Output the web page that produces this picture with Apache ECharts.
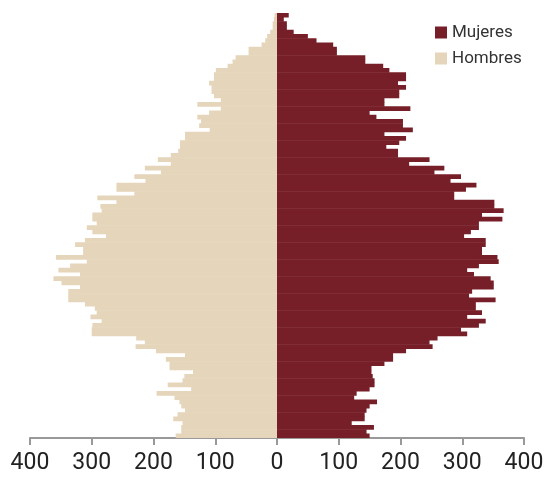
<!DOCTYPE html>
<html>
<head>
<meta charset="utf-8">
<script src="https://cdn.jsdelivr.net/npm/echarts@6/dist/echarts.min.js"></script>
<style>
  html, body { margin: 0; padding: 0; background: #fff; }
  #chart { width: 549px; height: 483px; }
</style>
</head>
<body>
<div id="chart"></div>
<script>
// edades de arriba (mayor) a abajo (menor)
var edades = [];
for (var a = 99; a >= 0; a--) edades.push(String(a));

var mujeres = [
  19, 11, 16, 16, 27, 50, 64, 91, 97, 97,
  143, 143, 172, 182, 209, 209, 196, 209, 198, 198,
  174, 174, 216, 150, 161, 204, 204, 220, 174, 209,
  198, 177, 196, 196, 247, 214, 271, 255, 298, 281,
  323, 306, 287, 287, 352, 352, 367, 332, 365, 327,
  327, 314, 303, 338, 338, 332, 332, 357, 359, 327,
  308, 319, 346, 351, 351, 316, 311, 354, 322, 322,
  332, 308, 338, 327, 298, 308, 260, 247, 252, 209,
  188, 188, 174, 153, 153, 155, 158, 158, 150, 129,
  125, 162, 150, 145, 142, 142, 121, 157, 145, 150
];

var hombres = [
  4, 5, 7, 7, 11, 16, 19, 25, 46, 46,
  67, 72, 80, 99, 102, 102, 110, 106, 106, 102,
  91, 129, 91, 110, 129, 123, 126, 109, 149, 149,
  157, 157, 160, 172, 193, 172, 214, 188, 231, 213,
  260, 260, 231, 291, 260, 286, 284, 299, 299, 292,
  308, 299, 277, 311, 327, 314, 314, 358, 308, 335,
  354, 319, 362, 349, 319, 338, 338, 338, 311, 295,
  292, 302, 284, 299, 300, 300, 228, 214, 229, 196,
  149, 180, 174, 174, 136, 150, 153, 177, 139, 195,
  166, 158, 155, 149, 161, 168, 153, 155, 155, 164
];

var colMujeres = '#771f28';
var colHombres = '#e5d5bb';

var myChart = echarts.init(document.getElementById('chart'));

var option = {
  animation: false,
  legend: {
    data: ['Mujeres', 'Hombres'],
    orient: 'vertical',
    left: 430,
    top: 19,
    icon: 'rect',
    itemWidth: 12,
    itemHeight: 12,
    itemGap: 9,
    textStyle: {
      color: '#333',
      fontSize: 17,
      fontFamily: 'Roboto'
    }
  },
  grid: {
    left: 30,
    right: 25,
    top: 13,
    bottom: 45
  },
  xAxis: {
    type: 'value',
    min: -400,
    max: 400,
    interval: 100,
    axisLine: {
      show: true,
      onZero: false,
      lineStyle: { color: '#999', width: 2 }
    },
    axisTick: {
      show: true,
      length: 7,
      lineStyle: { color: '#999', width: 2 }
    },
    splitLine: { show: false },
    axisLabel: {
      color: '#222',
      fontSize: 23,
      fontFamily: 'Roboto',
      margin: 14,
      formatter: function (v) { return Math.abs(v); }
    }
  },
  yAxis: {
    type: 'category',
    data: edades,
    inverse: true,
    show: false
  },
  series: [
    {
      name: 'Mujeres',
      type: 'bar',
      data: mujeres,
      barGap: '-100%',
      barWidth: '112%',
      itemStyle: { color: colMujeres }
    },
    {
      name: 'Hombres',
      type: 'bar',
      data: hombres.map(function (v) { return -v; }),
      barGap: '-100%',
      barWidth: '112%',
      itemStyle: { color: colHombres }
    }
  ]
};

myChart.setOption(option);
</script>
</body>
</html>
